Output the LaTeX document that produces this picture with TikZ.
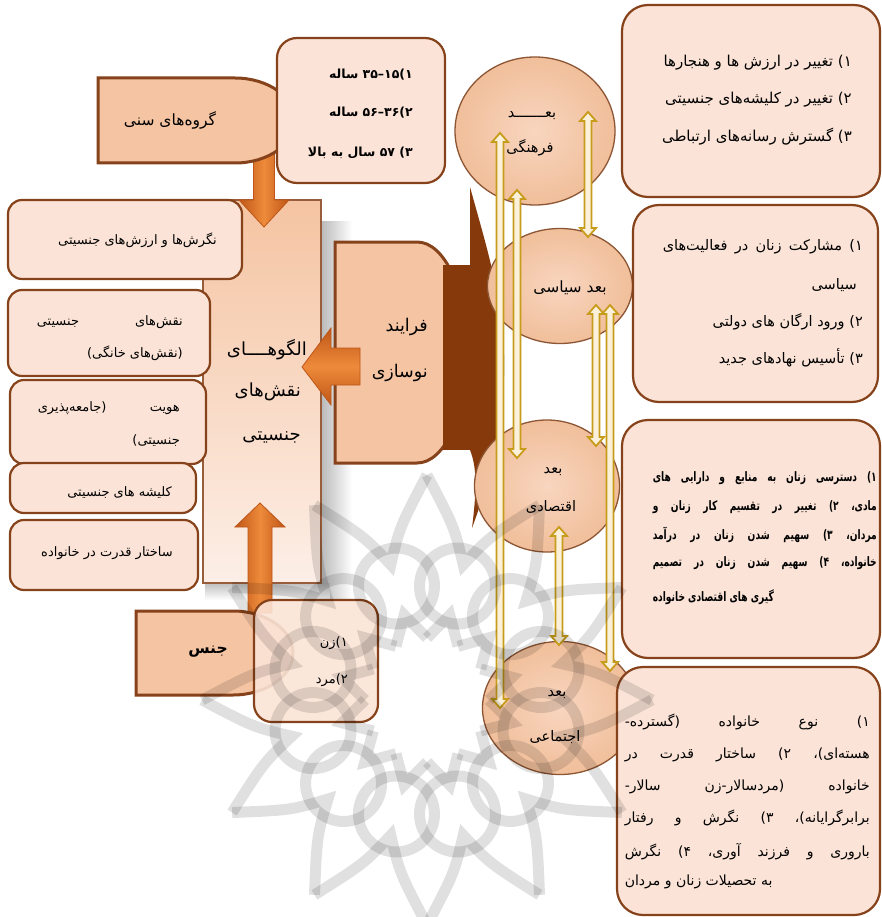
\documentclass[tikz,border=0pt]{standalone}
\usepackage{fontspec}
\usepackage{graphicx}
\TeXXeTstate=1
\newfontfamily\arabicfont[Script=Arabic]{DejaVu Sans}
\usetikzlibrary{shapes.geometric,calc}
\definecolor{brd}{HTML}{86421A}
\definecolor{boxfill}{HTML}{FBE4D7}
\definecolor{peach}{HTML}{F5C4A2}
\definecolor{dkb}{HTML}{863A0C}
\definecolor{orng}{HTML}{EE8A3A}
\definecolor{orngd}{HTML}{BE5618}
\definecolor{gold}{HTML}{C69C1A}
\definecolor{goldf}{HTML}{FBF0DA}
\definecolor{circb}{HTML}{8C5533}
\newcommand\RL[1]{\beginR #1\endR}
\newcommand\JL[2]{\hbox to #1pt{\beginR #2\endR}}
\newcommand\LL[2]{\hbox to #1pt{\beginR #2\endR\hfill}}
\newcommand\EJ[1]{\scalebox{0.7}[1]{\hbox to 320pt{\beginR #1\endR}}}
\newcommand\EL[1]{\scalebox{0.7}[1]{\hbox to 320pt{\beginR #1\endR\hfill}}}
\newcommand\garrow[2]{\draw[garr] ($(#1)+(-3.5,9)$) -- ($(#1)+(-8,9)$) -- (#1) -- ($(#1)+(8,9)$) -- ($(#1)+(3.5,9)$) -- ($(#2)+(3.5,-9)$) -- ($(#2)+(8,-9)$) -- (#2) -- ($(#2)+(-8,-9)$) -- ($(#2)+(-3.5,-9)$) -- cycle;}
\newcommand\fs[1]{\arabicfont\fontsize{#1}{#1}\selectfont}
\newcommand\fsb[1]{\arabicfont\bfseries\fontsize{#1}{#1}\selectfont}
\begin{document}
\begin{tikzpicture}[x=1pt,y=-1pt,
  tx/.style={inner sep=0pt, font=\fs{13}},
  txr/.style={inner sep=0pt, font=\fs{14.5}},
  txc/.style={inner sep=0pt, font=\fs{14.5}},
  txs/.style={inner sep=0pt, font=\fs{14}},
  txe/.style={inner sep=0pt, font=\fsb{13}},
  txb/.style={inner sep=0pt, font=\fsb{12.5}},
  txl/.style={inner sep=0pt, font=\fs{18}},
  lbox/.style={draw=brd, line width=2.2pt, fill=boxfill, rounded corners=14pt, inner sep=0pt},
  rbox/.style={draw=brd, line width=2.2pt, fill=boxfill, rounded corners=26pt, inner sep=0pt},
  pshape/.style={draw=brd, line width=3pt, fill=peach},
  circ/.style={ellipse, draw=circb, line width=1.3pt, inner color=peach!45!boxfill, outer color=peach!92!brown, inner sep=0pt},
  oarr/.style={draw=orngd, line width=0.8pt, left color=orngd, right color=orngd, middle color=orng},
  oarrh/.style={draw=orngd, line width=0.8pt, top color=orngd, bottom color=orngd, middle color=orng},
  garr/.style={draw=gold, line width=1.8pt, fill=goldf},
]
\useasboundingbox (0,0) rectangle (881,917);
\fill[white] (0,0) rectangle (881,917);

% shadow of the central column
\shade[left color=black!30, right color=white] (318,222) rectangle (352,600);
\shade[top color=black!25, bottom color=white] (205,583) rectangle (330,600);

% central column
\node[draw=brd!85, line width=1.6pt, minimum width=118pt, minimum height=383pt, inner sep=0pt,
      top color=peach, bottom color=boxfill!60!white] (cr) at (262,391.5) {};

% left boxes
\node[lbox, minimum width=234pt, minimum height=79pt] (b1) at (125,239.5) {};
\node[lbox, minimum width=202pt, minimum height=86pt] (b2) at (109,333) {};
\node[lbox, minimum width=196pt, minimum height=84pt] (b3) at (108,422) {};
\node[lbox, minimum width=186pt, minimum height=50pt] (b4) at (103,488) {};
\node[lbox, minimum width=188pt, minimum height=70pt] (b5) at (104,555) {};

% arrow down from age groups
\draw[oarr] (253.5,150) -- (274.5,150) -- (274.5,200) -- (289,200) -- (264,227) -- (239,200) -- (253.5,200) -- cycle;

% age groups
\draw[pshape] (98,78) -- (235,78) .. controls (268,78) and (295,97) .. (295,120.5)
   .. controls (295,144) and (268,163) .. (235,163) -- (98,163) -- cycle;
\node[rbox, rounded corners=20pt, minimum width=168pt, minimum height=145pt] (ab) at (361,110.5) {};

% arrow up from sex
\draw[oarr] (248,613) -- (272,613) -- (272,527) -- (285,527) -- (260,503) -- (235,527) -- (248,527) -- cycle;

% sex
\draw[pshape] (136,611) -- (233,611) .. controls (266,611) and (293,630) .. (293,653)
   .. controls (293,676) and (266,695) .. (233,695) -- (136,695) -- cycle;
\node[lbox, rounded corners=18pt, fill opacity=0.9, minimum width=124pt, minimum height=122pt] (zb) at (316,661) {};

% modernisation process
\draw[pshape] (335,242) -- (417,242) .. controls (445,242) and (467,291) .. (467,352)
   .. controls (467,414) and (445,463) .. (417,463) -- (335,463) -- cycle;
\fill[dkb] (470,187) .. controls (486,245) and (502,295) .. (504,355)
   .. controls (506,415) and (490,480) .. (472,528) .. controls (476,495) and (478,470) .. (470,450) -- cycle;
\fill[dkb] (443,265) rectangle (472,450);

% arrow left
\draw[oarrh] (360,348) -- (360,385) -- (331,385) -- (331,405) -- (302,367) -- (331,328) -- (331,348) -- cycle;

% dimension circles
\node[circ, minimum width=160pt, minimum height=148pt] (cul) at (535,131) {};
\node[circ, minimum width=145pt, minimum height=115pt] (pol) at (560,286) {};
\node[circ, minimum width=145pt, minimum height=132pt] (eco) at (547,486) {};
\node[circ, minimum width=155pt, minimum height=133pt] (soc) at (560,708) {};

% right boxes
\node[rbox, minimum width=258pt, minimum height=192pt] (cb) at (751,101) {};
\node[rbox, minimum width=245pt, minimum height=197pt] (pb) at (755.5,303.5) {};
\node[rbox, minimum width=258pt, minimum height=238pt] (eb) at (751,539) {};
\node[rbox, minimum width=263pt, minimum height=248pt] (sb) at (748.5,791) {};

% gold double arrows
\coordinate (g1t) at (588,112); \coordinate (g1b) at (588,237);
\coordinate (g2t) at (500,133); \coordinate (g2b) at (500,708);
\coordinate (g3t) at (517,190); \coordinate (g3b) at (517,458);
\coordinate (g4t) at (596,305); \coordinate (g4b) at (596,446);
\coordinate (g5t) at (610,305); \coordinate (g5b) at (610,671);
\coordinate (g6t) at (559,527); \coordinate (g6b) at (559,645);
\garrow{g1t}{g1b}
\garrow{g2t}{g2b}
\garrow{g3t}{g3b}
\garrow{g4t}{g4b}
\garrow{g5t}{g5b}
\garrow{g6t}{g6b}

% ---------- texts ----------
\node[inner sep=0pt, font=\fs{15.5}] (gst) at (170,120) {\RL{گروه^^^^200cهای سنی}};
\node[txb, anchor=east] (a1) at (413,75) {\RL{۱)۱۵–۳۵ ساله}};
\node[txb, anchor=east] (a2) at (413,113) {\RL{۲)۳۶–۵۶ ساله}};
\node[txb, anchor=east] (a3) at (413,153) {\RL{۳) ۵۷ سال به بالا}};

\node[txl, anchor=east] (k1) at (307,350) {\RL{الگوهــــای}};
\node[txl, anchor=east] (k2) at (301,392) {\RL{نقش^^^^200cهای}};
\node[txl, anchor=east] (k3) at (301,437) {\RL{جنسیتی}};

\node[tx, anchor=east] (l1) at (217,240) {\RL{نگرش^^^^200cها و ارزش^^^^200cهای جنسیتی}};
\node[tx, anchor=east] (l2a) at (183,322) {\JL{146}{نقش^^^^200cهای جنسیتی}};
\node[tx, anchor=east] (l2b) at (183,353) {\RL{(نقش^^^^200cهای خانگی)}};
\node[tx, anchor=east] (l3a) at (180,408) {\JL{142}{هویت (جامعه^^^^200cپذیری}};
\node[tx, anchor=east] (l3b) at (180,441) {\RL{جنسیتی)}};
\node[tx, anchor=east] (l4) at (172,493) {\RL{کلیشه های جنسیتی}};
\node[tx, anchor=east] (l5) at (173,553) {\RL{ساختار قدرت در خانواده}};

\node[inner sep=0pt, font=\fs{17.5}, anchor=east] (f1) at (428,327) {\RL{فرایند}};
\node[inner sep=0pt, font=\fs{17.5}, anchor=east] (f2) at (428,373) {\RL{نوسازی}};

\node[inner sep=0pt, font=\fsb{15.5}] (j1) at (208,652) {\RL{جنس}};
\node[tx, anchor=east] (z1) at (348,643) {\RL{۱)زن}};
\node[tx, anchor=east] (z2) at (348,680) {\RL{۲)مرد}};

\node[txc] (cu1) at (532,116) {\RL{بعـــــــد}};
\node[txc] (cu2) at (530,148) {\RL{فرهنگی}};
\node[inner sep=0pt, font=\fs{15.5}] (po1) at (570,288) {\RL{بعد سیاسی}};
\node[txc] (ec1) at (553,472) {\RL{بعد}};
\node[txc] (ec2) at (551,507) {\RL{اقتصادی}};
\node[txc] (so1) at (557,695) {\RL{بعد}};
\node[txc] (so2) at (555,737) {\RL{اجتماعی}};

\node[inner sep=0pt, font=\fs{15}, anchor=east] (c1) at (852,63) {\RL{۱) تغییر در ارزش ها و هنجارها}};
\node[inner sep=0pt, font=\fs{15}, anchor=east] (c2) at (852,100) {\RL{۲) تغییر در کلیشه^^^^200cهای جنسیتی}};
\node[inner sep=0pt, font=\fs{15}, anchor=east] (c3) at (852,137) {\RL{۳) گسترش رسانه^^^^200cهای ارتباطی}};

\node[txr, anchor=east] (p1) at (863,247) {\JL{200}{۱) مشارکت زنان در فعالیت^^^^200cهای}};
\node[txr, anchor=east] (p2) at (857,285) {\RL{سیاسی}};
\node[txr, anchor=east] (p3) at (863,322) {\RL{۲) ورود ارگان های دولتی}};
\node[txr, anchor=east] (p4) at (863,358) {\RL{۳) تأسیس نهادهای جدید}};

\node[txe, anchor=east] (e1) at (877,478) {\EJ{۱) دسترسی زنان به منابع و دارایی های}};
\node[txe, anchor=east] (e2) at (877,507) {\EJ{مادی، ۲) تغییر در تقسیم کار زنان و}};
\node[txe, anchor=east] (e3) at (877,535) {\EJ{مردان، ۳) سهیم شدن زنان در درآمد}};
\node[txe, anchor=east] (e4) at (877,563) {\EJ{خانواده، ۴) سهیم شدن زنان در تصمیم}};
\node[txe, anchor=east] (e5) at (877,597) {\EL{گیری های اقتصادی خانواده}};

\node[txs, anchor=east] (s1) at (870,722) {\JL{245}{۱) نوع خانواده (گسترده-}};
\node[txs, anchor=east] (s2) at (870,755) {\JL{245}{هسته^^^^200cای)، ۲) ساختار قدرت در}};
\node[txs, anchor=east] (s3) at (870,787) {\JL{245}{خانواده (مردسالار-زن سالار-}};
\node[txs, anchor=east] (s4) at (870,818) {\JL{245}{برابرگرایانه)، ۳) نگرش و رفتار}};
\node[txs, anchor=east] (s5) at (870,852) {\JL{245}{باروری و فرزند آوری، ۴) نگرش}};
\node[txs, anchor=east] (s6) at (870,882) {\LL{245}{به تحصیلات زنان و مردان}};

% ---------- watermark ----------
\begin{scope}[shift={(427,700)}, draw=black, opacity=0.12, line width=11pt]
  \foreach \a in {0,30,...,330}{
    \draw (\a:225) .. controls (\a+9:175) .. (\a+15:140) .. controls (\a+21:175) .. (\a+30:225);
    \draw (\a+15:118) circle[radius=38];
    \draw (\a:62) -- (\a+15:88) -- (\a+30:62);
  }
\end{scope}
\end{tikzpicture}
\end{document}
